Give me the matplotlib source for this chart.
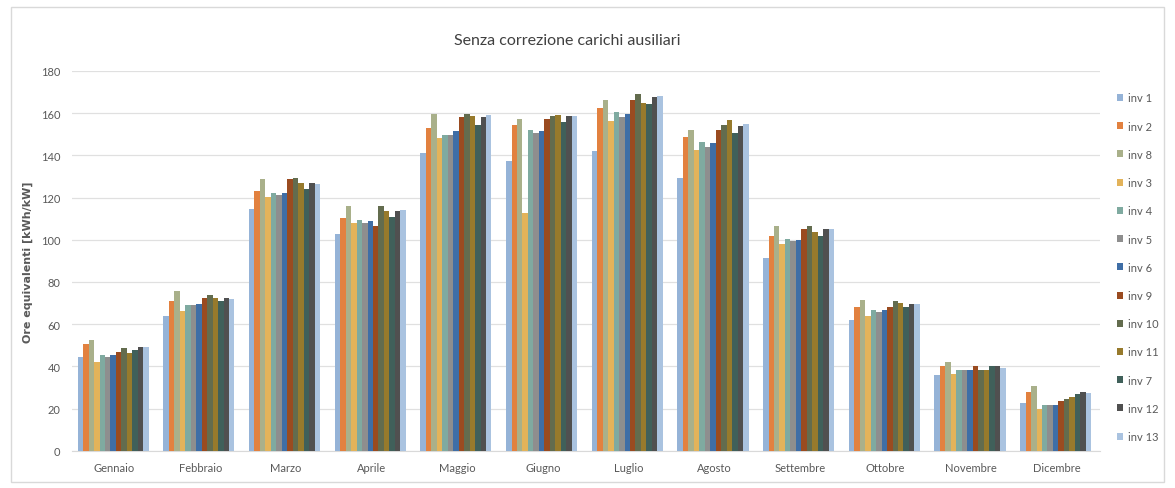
import numpy as np
import matplotlib
matplotlib.use("Agg")
import matplotlib.pyplot as plt
from matplotlib.patches import Rectangle

plt.rcParams['font.family'] = ['Lato', 'DejaVu Sans']

mesi = ["Gennaio", "Febbraio", "Marzo", "Aprile", "Maggio", "Giugno",
        "Luglio", "Agosto", "Settembre", "Ottobre", "Novembre", "Dicembre"]

serie = ["inv 1", "inv 2", "inv 8", "inv 3", "inv 4", "inv 5", "inv 6",
         "inv 9", "inv 10", "inv 11", "inv 7", "inv 12", "inv 13"]

# values, one list per month, in the order of 'serie'
gennaio   = [44.4, 50.7, 52.7, 42.0, 45.2, 44.4, 45.2, 47.0, 48.7, 46.3, 48.0, 49.1, 49.4]
febbraio  = [64.1, 71.2, 75.5, 66.2, 69.2, 68.9, 69.5, 72.4, 73.6, 72.5, 70.8, 72.4, 72.0]
marzo     = [114.5, 123.0, 129.0, 120.2, 122.1, 121.3, 122.1, 128.6, 129.2, 127.0, 124.2, 127.0, 126.2]
aprile    = [102.8, 110.4, 116.1, 108.1, 109.2, 108.1, 108.7, 106.3, 116.0, 113.6, 110.7, 113.6, 114.2]
maggio    = [141.1, 152.9, 159.7, 148.3, 149.8, 149.8, 151.5, 158.1, 159.7, 158.6, 154.2, 158.1, 158.9]
giugno    = [137.1, 154.2, 157.3, 112.6, 151.8, 150.5, 151.5, 157.3, 158.6, 159.2, 155.8, 158.4, 158.6]
luglio    = [141.9, 162.4, 166.0, 156.1, 160.5, 158.1, 159.7, 166.0, 169.2, 164.9, 164.5, 167.6, 167.9]
agosto    = [129.4, 148.6, 151.8, 142.7, 146.3, 143.9, 146.0, 151.8, 154.2, 156.5, 150.5, 153.9, 154.7]
settembre = [91.5, 101.6, 106.3, 98.1, 100.5, 99.5, 100.1, 105.2, 106.3, 103.6, 102.0, 104.9, 105.2]
ottobre   = [61.8, 68.1, 71.6, 64.1, 66.5, 65.7, 66.5, 68.1, 70.8, 70.1, 68.1, 69.7, 69.7]
novembre  = [36.0, 40.4, 42.3, 36.5, 38.5, 38.1, 38.5, 40.0, 38.5, 38.5, 40.1, 40.1, 39.2]
dicembre  = [22.6, 27.8, 30.5, 19.9, 21.8, 21.9, 21.9, 23.8, 24.6, 25.4, 27.0, 27.8, 27.5]

valori = np.array([gennaio, febbraio, marzo, aprile, maggio, giugno,
                   luglio, agosto, settembre, ottobre, novembre, dicembre])

colori = ["#95B3D7", "#E2813F", "#A9B08A", "#E3B35A", "#7FAAA0", "#8E8E8E",
          "#3F6EA6", "#9A4B20", "#636C4E", "#977A2C", "#40605A", "#505050",
          "#AAC3E0"]

fig = plt.figure(figsize=(11.75, 4.89), dpi=100)
ax = fig.add_axes([0.061, 0.076, 0.875, 0.777])

# outer chart border
fig.patches.append(Rectangle((0.009, 0.012), 0.982, 0.972, transform=fig.transFigure,
                             fill=False, edgecolor="#D9D9D9", linewidth=1))

x = np.arange(len(mesi))
n = len(serie)
larg = 0.83 / n
for i in range(n):
    ax.bar(x - 0.43 + larg * (i + 0.5), valori[:, i], width=larg,
           color=colori[i], label=serie[i], zorder=3)

ax.set_xlim(-0.5, len(mesi) - 0.5)
ax.set_ylim(0, 180)
ax.set_yticks(np.arange(0, 181, 20))
ax.set_xticks(x)
ax.set_xticklabels(mesi)
ax.tick_params(axis="both", length=0, labelsize=8, labelcolor="#595959")
ax.tick_params(axis="x", pad=8)
ax.tick_params(axis="y", pad=8)
ax.grid(axis="y", color="#E0E0E0", linewidth=0.9, zorder=0)
for s in ["top", "right", "left"]:
    ax.spines[s].set_visible(False)
ax.spines["bottom"].set_color("#D9D9D9")

ax.set_ylabel("Ore equivalenti [kWh/kW]", fontsize=8, color="#595959",
              fontweight="bold", family=["DejaVu Sans"], labelpad=6)
fig.text(0.483, 0.917, "Senza correzione carichi ausiliari", ha="center",
         va="center", fontsize=11.5, color="#404040")

leg = ax.legend(loc="upper left", bbox_to_anchor=(1.012, 0.955), frameon=False,
                fontsize=8, handlelength=0.6, handleheight=0.6,
                handletextpad=0.4, labelspacing=1.55, borderaxespad=0)
for t in leg.get_texts():
    t.set_color("#595959")

fig.savefig("out.png", dpi=100)
